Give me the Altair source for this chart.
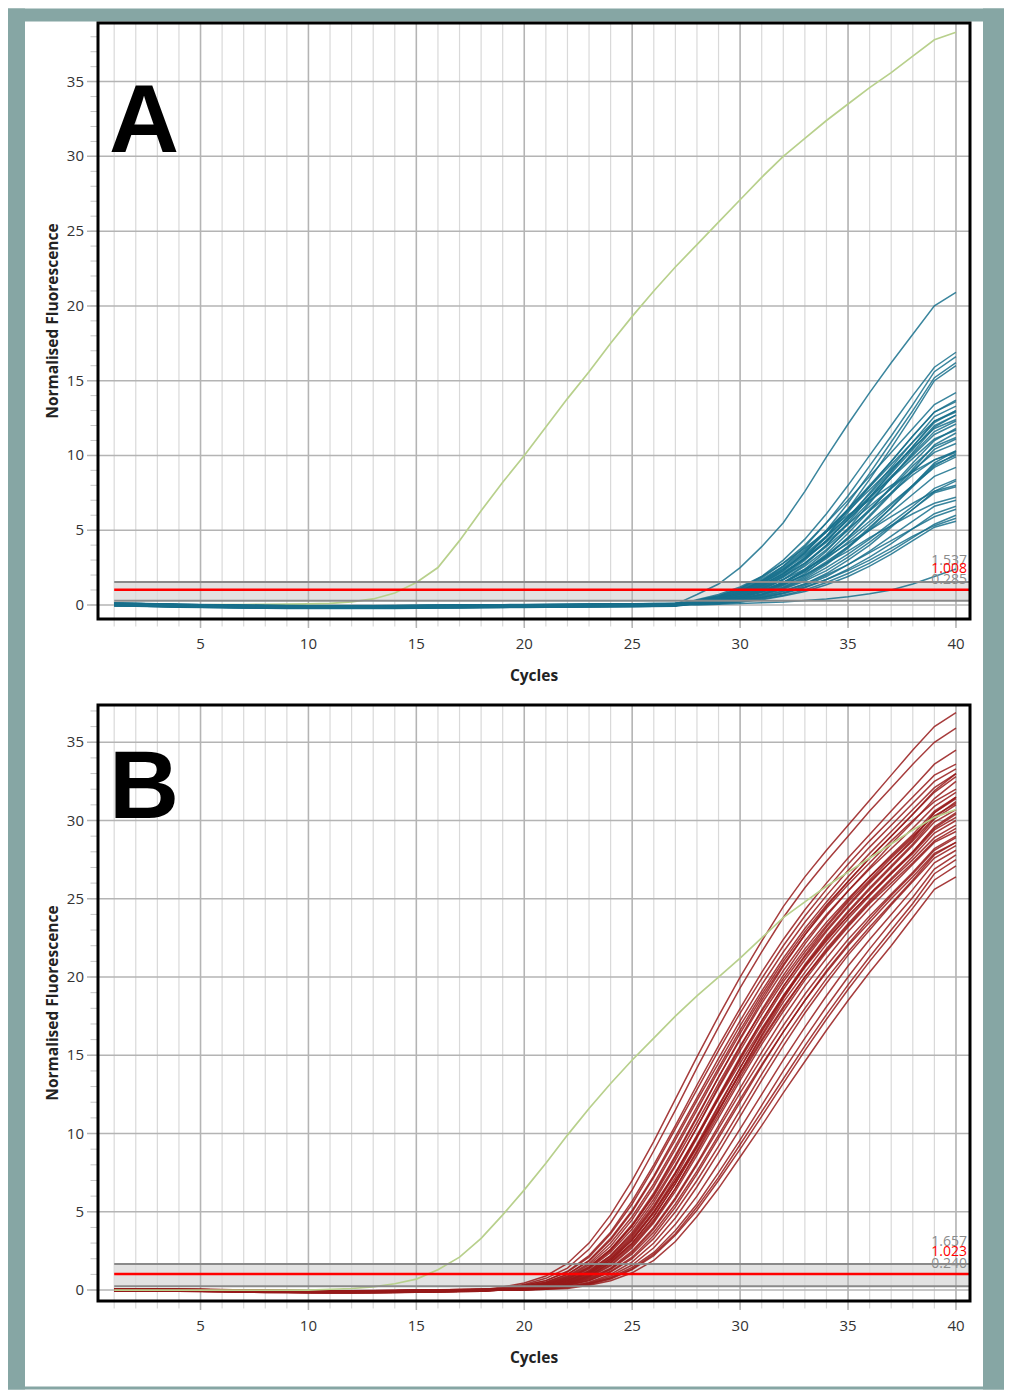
import altair as alt
import pandas as pd

CYCLES = list(range(1, 41))

# Green reference curve, cycles 1..40
GREEN_A = [0.0, 0.0, 0.0, 0.0, 0.01, 0.02, 0.03, 0.04, 0.05, 0.07, 0.1, 0.2, 0.4, 0.8, 1.5,
           2.5, 4.3, 6.3, 8.2, 10.0, 11.9, 13.8, 15.6, 17.5, 19.3, 21.0, 22.6, 24.1, 25.6, 27.1,
           28.6, 30.0, 31.2, 32.4, 33.5, 34.6, 35.6, 36.7, 37.8, 38.3]
GREEN_B = [0.0, 0.0, 0.0, 0.0, 0.0, 0.0, 0.0, 0.0, 0.0, 0.0, 0.05, 0.1, 0.2, 0.4, 0.7,
           1.3, 2.1, 3.3, 4.8, 6.4, 8.1, 9.9, 11.6, 13.2, 14.7, 16.1, 17.5, 18.8, 20.0, 21.2,
           22.5, 23.8, 24.8, 25.8, 26.7, 27.6, 28.5, 29.4, 30.2, 30.7]

# Panel A: shared baseline (cycles 1..27) and per-curve readings (cycles 28..40)
BASE_A = [0.05, 0.03, 0.0, -0.03, -0.05, -0.07, -0.09, -0.1, -0.11, -0.12, -0.12, -0.12,
          -0.12, -0.11, -0.1, -0.09, -0.08, -0.07, -0.06, -0.05, -0.04, -0.03, -0.02, -0.01,
          0.0, 0.02, 0.04]
TEAL_A = [
    [0.7, 1.4, 2.5, 3.9, 5.5, 7.6, 9.9, 12.1, 14.2, 16.2, 18.1, 20.0, 20.9],
    [0.3, 0.6, 1.1, 1.9, 3.0, 4.4, 6.1, 8.0, 10.0, 12.0, 14.0, 15.9, 16.9],
    [0.25, 0.5, 0.9, 1.6, 2.6, 3.9, 5.5, 7.3, 9.3, 11.3, 13.4, 15.6, 16.6],
    [0.2, 0.4, 0.8, 1.4, 2.3, 3.5, 5.0, 6.8, 8.8, 10.9, 13.0, 15.2, 16.2],
    [0.2, 0.35, 0.7, 1.2, 2.0, 3.1, 4.6, 6.4, 8.4, 10.5, 12.7, 15.0, 16.0],
    [0.3, 0.6, 1.1, 1.8, 2.8, 4.0, 5.5, 7.0, 8.6, 10.2, 11.8, 13.4, 14.2],
    [0.2, 0.45, 0.85, 1.5, 2.4, 3.5, 4.9, 6.4, 8.0, 9.6, 11.3, 12.9, 13.7],
    [0.15, 0.3, 0.6, 1.1, 1.9, 3.0, 4.3, 5.8, 7.5, 9.2, 10.9, 12.6, 13.3],
    [0.15, 0.3, 0.55, 1.0, 1.7, 2.7, 4.0, 5.5, 7.2, 8.9, 10.6, 12.3, 13.0],
    [0.1, 0.25, 0.5, 0.9, 1.5, 2.4, 3.6, 5.1, 6.8, 8.5, 10.2, 11.9, 12.7],
    [0.25, 0.5, 0.95, 1.6, 2.5, 3.6, 4.9, 6.3, 7.7, 9.1, 10.5, 11.8, 12.4],
    [0.2, 0.4, 0.75, 1.3, 2.1, 3.1, 4.3, 5.7, 7.1, 8.6, 10.0, 11.4, 12.1],
    [0.1, 0.2, 0.45, 0.85, 1.4, 2.3, 3.4, 4.8, 6.3, 7.9, 9.5, 11.0, 11.8],
    [0.1, 0.2, 0.4, 0.75, 1.3, 2.1, 3.2, 4.5, 6.0, 7.5, 9.1, 10.7, 11.5],
    [0.15, 0.3, 0.6, 1.05, 1.7, 2.6, 3.7, 5.0, 6.4, 7.8, 9.3, 10.6, 11.2],
    [0.3, 0.55, 1.0, 1.6, 2.4, 3.4, 4.6, 5.9, 7.2, 8.5, 9.8, 11.1, 11.7],
    [0.2, 0.4, 0.75, 1.25, 1.95, 2.8, 3.9, 5.1, 6.3, 7.5, 8.7, 9.7, 10.2],
    [0.1, 0.2, 0.4, 0.7, 1.2, 1.9, 2.8, 3.9, 5.2, 6.5, 7.9, 9.3, 10.1],
    [0.15, 0.3, 0.55, 0.95, 1.5, 2.3, 3.3, 4.4, 5.6, 6.8, 8.0, 9.2, 9.9],
    [0.35, 0.7, 1.2, 1.9, 2.8, 3.8, 4.9, 6.0, 7.0, 8.0, 8.9, 9.7, 10.3],
    [0.1, 0.2, 0.4, 0.7, 1.1, 1.7, 2.5, 3.4, 4.4, 5.5, 6.6, 7.8, 8.4],
    [0.2, 0.4, 0.7, 1.1, 1.7, 2.4, 3.2, 4.1, 5.0, 5.9, 6.8, 7.6, 8.0],
    [0.15, 0.3, 0.55, 0.9, 1.4, 2.0, 2.8, 3.6, 4.5, 5.3, 6.1, 6.8, 7.2],
    [0.1, 0.15, 0.3, 0.5, 0.8, 1.3, 1.9, 2.7, 3.6, 4.6, 5.6, 6.6, 7.0],
    [0.1, 0.2, 0.35, 0.6, 0.95, 1.4, 2.0, 2.7, 3.5, 4.3, 5.1, 5.9, 6.4],
    [0.05, 0.1, 0.2, 0.4, 0.65, 1.0, 1.5, 2.1, 2.8, 3.6, 4.5, 5.4, 6.0],
    [0.1, 0.2, 0.3, 0.5, 0.8, 1.2, 1.7, 2.3, 3.0, 3.8, 4.6, 5.3, 5.8],
    [0.05, 0.1, 0.2, 0.35, 0.6, 0.9, 1.35, 1.9, 2.6, 3.4, 4.3, 5.2, 5.6],
    [0.0, 0.05, 0.1, 0.15, 0.2, 0.3, 0.4, 0.55, 0.75, 1.0, 1.4, 1.9, 2.4],
    [0.2, 0.4, 0.8, 1.35, 2.1, 3.1, 4.3, 5.7, 7.2, 8.8, 10.4, 12.0, 12.7],
    [0.1, 0.25, 0.5, 0.9, 1.5, 2.3, 3.3, 4.5, 5.9, 7.4, 8.9, 10.4, 11.1],
    [0.25, 0.5, 0.9, 1.5, 2.3, 3.3, 4.5, 5.9, 7.4, 9.0, 10.6, 12.2, 13.0],
    [0.05, 0.15, 0.3, 0.55, 0.9, 1.4, 2.1, 3.0, 4.0, 5.2, 6.4, 7.6, 8.3],
    [0.15, 0.3, 0.55, 0.95, 1.5, 2.2, 3.1, 4.2, 5.4, 6.7, 8.0, 9.4, 10.0],
    [0.3, 0.6, 1.05, 1.7, 2.6, 3.7, 5.0, 6.4, 7.9, 9.4, 10.9, 12.3, 12.9],
    [0.1, 0.2, 0.4, 0.65, 1.05, 1.6, 2.3, 3.2, 4.2, 5.3, 6.4, 7.5, 7.9],
    [0.2, 0.4, 0.75, 1.3, 2.1, 3.2, 4.6, 6.2, 7.9, 9.6, 11.3, 12.9, 13.6],
    [0.15, 0.35, 0.65, 1.15, 1.85, 2.8, 4.0, 5.4, 6.9, 8.5, 10.1, 11.6, 12.3],
    [0.1, 0.2, 0.4, 0.7, 1.15, 1.8, 2.7, 3.8, 5.1, 6.5, 8.0, 9.5, 10.3],
    [0.25, 0.5, 0.9, 1.45, 2.2, 3.1, 4.2, 5.4, 6.6, 7.8, 9.0, 10.2, 10.8],
    [0.05, 0.1, 0.25, 0.45, 0.75, 1.15, 1.7, 2.4, 3.2, 4.1, 5.1, 6.1, 6.6],
    [0.1, 0.25, 0.5, 0.85, 1.35, 2.0, 2.9, 3.9, 5.0, 6.2, 7.4, 8.6, 9.2],
]
OFFSET_A = [0.0, -0.05, 0.05, -0.1, 0.03, -0.07, 0.08, -0.03, 0.02, -0.12, 0.06, -0.04,
            0.01, -0.08, 0.04, -0.02, 0.07, -0.06, 0.0, -0.1, 0.05, -0.03, 0.02, -0.09,
            0.06, -0.01, 0.03, -0.05, 0.0, -0.07, 0.04, -0.02, 0.01, -0.06, 0.05, -0.04,
            0.02, -0.08, 0.04, -0.03, 0.0, -0.05]

# Panel B: shared baseline (cycles 1..18) and per-curve readings (cycles 19..40)
BASE_B = [0.02, 0.02, 0.01, 0.0, -0.01, -0.03, -0.05, -0.07, -0.08, -0.09, -0.1, -0.1,
          -0.09, -0.08, -0.06, -0.04, -0.02, 0.0]
RED_B = [
    [0.2, 0.45, 0.9, 1.7, 3.0, 4.8, 7.0, 9.5, 12.2, 14.9, 17.5, 20.0, 22.3, 24.5, 26.4, 28.1, 29.7, 31.3, 32.9, 34.5, 36.0, 36.9],
    [0.15, 0.35, 0.75, 1.4, 2.6, 4.3, 6.4, 8.9, 11.5, 14.2, 16.8, 19.3, 21.6, 23.8, 25.7, 27.4, 29.0, 30.6, 32.1, 33.6, 35.0, 35.9],
    [0.1, 0.3, 0.6, 1.2, 2.2, 3.7, 5.7, 8.0, 10.5, 13.1, 15.6, 18.0, 20.3, 22.4, 24.3, 26.0, 27.6, 29.1, 30.6, 32.1, 33.6, 34.5],
    [0.1, 0.25, 0.5, 1.0, 1.9, 3.3, 5.1, 7.3, 9.8, 12.3, 14.8, 17.2, 19.5, 21.6, 23.5, 25.2, 26.8, 28.3, 29.7, 31.1, 32.5, 33.3],
    [0.05, 0.15, 0.35, 0.7, 1.4, 2.5, 4.1, 6.1, 8.5, 11.0, 13.6, 16.1, 18.5, 20.7, 22.7, 24.5, 26.1, 27.6, 29.0, 30.4, 31.9, 33.0],
    [0.1, 0.2, 0.45, 0.9, 1.7, 3.0, 4.7, 6.8, 9.2, 11.7, 14.2, 16.6, 18.9, 21.0, 22.9, 24.6, 26.1, 27.6, 29.0, 30.4, 31.8, 32.8],
    [0.05, 0.1, 0.3, 0.6, 1.2, 2.2, 3.7, 5.6, 7.9, 10.4, 13.0, 15.5, 17.9, 20.1, 22.1, 23.9, 25.5, 27.0, 28.5, 29.9, 31.4, 32.5],
    [0.05, 0.15, 0.35, 0.75, 1.45, 2.6, 4.2, 6.2, 8.6, 11.1, 13.6, 16.0, 18.3, 20.4, 22.3, 24.0, 25.5, 26.9, 28.2, 29.5, 30.9, 31.8],
    [0.0, 0.1, 0.25, 0.5, 1.0, 1.9, 3.2, 5.0, 7.2, 9.7, 12.3, 14.8, 17.2, 19.4, 21.4, 23.2, 24.8, 26.2, 27.6, 28.9, 30.5, 31.5],
    [0.05, 0.15, 0.3, 0.6, 1.15, 2.1, 3.5, 5.3, 7.5, 9.9, 12.4, 14.9, 17.2, 19.4, 21.3, 23.0, 24.6, 26.1, 27.4, 28.7, 30.2, 31.2],
    [0.1, 0.2, 0.4, 0.8, 1.5, 2.6, 4.1, 6.0, 8.3, 10.7, 13.2, 15.6, 17.8, 19.9, 21.8, 23.5, 25.0, 26.4, 27.7, 29.0, 30.3, 31.1],
    [0.0, 0.05, 0.2, 0.4, 0.85, 1.6, 2.8, 4.4, 6.5, 8.9, 11.4, 13.9, 16.3, 18.6, 20.7, 22.5, 24.1, 25.6, 27.0, 28.4, 29.9, 30.7],
    [0.05, 0.1, 0.25, 0.55, 1.05, 1.9, 3.2, 4.9, 7.0, 9.3, 11.8, 14.2, 16.5, 18.7, 20.6, 22.3, 23.9, 25.3, 26.7, 28.0, 29.5, 30.4],
    [0.0, 0.1, 0.2, 0.45, 0.9, 1.7, 2.9, 4.5, 6.5, 8.8, 11.2, 13.6, 15.9, 18.0, 20.0, 21.8, 23.4, 24.9, 26.3, 27.7, 29.2, 30.0],
    [0.05, 0.15, 0.3, 0.6, 1.1, 2.0, 3.3, 5.0, 7.0, 9.2, 11.5, 13.8, 16.0, 18.1, 20.0, 21.7, 23.3, 24.8, 26.2, 27.5, 28.9, 29.7],
    [0.0, 0.05, 0.15, 0.35, 0.75, 1.4, 2.5, 4.0, 5.9, 8.1, 10.5, 12.9, 15.2, 17.4, 19.4, 21.2, 22.9, 24.4, 25.8, 27.2, 28.6, 29.3],
    [0.0, 0.05, 0.15, 0.3, 0.6, 1.2, 2.1, 3.5, 5.3, 7.4, 9.7, 12.0, 14.3, 16.5, 18.5, 20.4, 22.1, 23.7, 25.2, 26.6, 28.1, 28.9],
    [0.0, 0.05, 0.1, 0.25, 0.5, 1.0, 1.8, 3.0, 4.6, 6.6, 8.8, 11.1, 13.4, 15.6, 17.7, 19.6, 21.4, 23.0, 24.6, 26.1, 27.6, 28.4],
    [0.0, 0.0, 0.1, 0.2, 0.45, 0.9, 1.6, 2.7, 4.2, 6.0, 8.1, 10.3, 12.5, 14.7, 16.8, 18.8, 20.7, 22.4, 24.0, 25.6, 27.3, 28.1],
    [0.0, 0.05, 0.1, 0.2, 0.4, 0.8, 1.45, 2.4, 3.8, 5.5, 7.5, 9.6, 11.8, 14.0, 16.1, 18.1, 20.0, 21.8, 23.5, 25.1, 26.9, 27.8],
    [0.0, 0.0, 0.05, 0.15, 0.35, 0.7, 1.3, 2.2, 3.5, 5.1, 7.0, 9.0, 11.1, 13.2, 15.3, 17.3, 19.2, 21.0, 22.7, 24.4, 26.2, 27.1],
    [0.0, 0.0, 0.05, 0.1, 0.3, 0.6, 1.1, 1.9, 3.1, 4.7, 6.5, 8.5, 10.5, 12.6, 14.6, 16.6, 18.5, 20.3, 22.0, 23.8, 25.6, 26.4],
    [0.05, 0.2, 0.4, 0.85, 1.6, 2.8, 4.5, 6.6, 9.0, 11.5, 14.0, 16.4, 18.7, 20.8, 22.7, 24.4, 25.9, 27.3, 28.7, 30.0, 31.2, 32.0],
    [0.0, 0.1, 0.2, 0.45, 0.95, 1.8, 3.0, 4.7, 6.8, 9.2, 11.7, 14.2, 16.6, 18.8, 20.8, 22.6, 24.2, 25.7, 27.1, 28.5, 30.1, 31.0],
    [0.05, 0.1, 0.3, 0.65, 1.25, 2.2, 3.6, 5.4, 7.5, 9.8, 12.2, 14.5, 16.7, 18.8, 20.7, 22.4, 23.9, 25.3, 26.6, 27.9, 29.4, 30.2],
    [0.0, 0.05, 0.2, 0.4, 0.8, 1.55, 2.7, 4.3, 6.3, 8.6, 11.0, 13.4, 15.7, 17.8, 19.8, 21.6, 23.2, 24.7, 26.0, 27.3, 28.7, 29.5],
    [0.0, 0.05, 0.15, 0.3, 0.65, 1.3, 2.3, 3.7, 5.5, 7.6, 9.9, 12.2, 14.4, 16.5, 18.5, 20.3, 22.0, 23.5, 25.0, 26.4, 27.9, 28.6],
    [0.0, 0.0, 0.1, 0.2, 0.4, 0.75, 1.35, 2.3, 3.6, 5.3, 7.2, 9.3, 11.4, 13.5, 15.6, 17.6, 19.5, 21.3, 23.0, 24.7, 26.6, 27.5],
    [0.1, 0.25, 0.5, 1.0, 1.85, 3.2, 5.0, 7.2, 9.6, 12.1, 14.5, 16.9, 19.1, 21.2, 23.1, 24.8, 26.4, 27.9, 29.3, 30.7, 32.1, 33.0],
    [0.05, 0.1, 0.25, 0.55, 1.1, 2.0, 3.4, 5.2, 7.4, 9.8, 12.3, 14.7, 17.0, 19.2, 21.1, 22.9, 24.5, 26.0, 27.4, 28.8, 30.5, 31.4],
    [0.0, 0.05, 0.2, 0.45, 0.9, 1.75, 3.0, 4.7, 6.8, 9.1, 11.5, 13.9, 16.2, 18.4, 20.3, 22.1, 23.7, 25.2, 26.6, 28.0, 29.6, 30.5],
    [0.0, 0.05, 0.15, 0.35, 0.7, 1.35, 2.4, 3.9, 5.8, 8.0, 10.3, 12.6, 14.8, 16.9, 18.9, 20.7, 22.4, 23.9, 25.3, 26.7, 28.2, 29.0],
    [0.05, 0.15, 0.35, 0.7, 1.35, 2.4, 3.9, 5.8, 8.0, 10.4, 12.9, 15.3, 17.6, 19.7, 21.6, 23.3, 24.9, 26.4, 27.8, 29.1, 30.6, 31.5],
    [0.0, 0.05, 0.15, 0.3, 0.6, 1.15, 2.0, 3.3, 5.0, 7.0, 9.2, 11.5, 13.8, 16.0, 18.0, 19.9, 21.6, 23.2, 24.7, 26.2, 27.8, 28.6],
    [0.1, 0.3, 0.6, 1.15, 2.1, 3.6, 5.5, 7.8, 10.3, 12.8, 15.3, 17.7, 19.9, 22.0, 23.9, 25.6, 27.2, 28.7, 30.1, 31.5, 32.9, 33.6],
]
OFFSET_B = [0.0, -0.04, 0.04, -0.08, 0.02, -0.06, 0.06, -0.02, 0.03, -0.07, 0.05, -0.03,
            0.01, -0.05, 0.04, -0.01, 0.02, -0.06, 0.0, -0.08, 0.03, -0.02, 0.05, -0.04,
            0.01, -0.06, 0.02, -0.03, 0.04, -0.05, 0.0, -0.02, 0.03, -0.05, 0.01]

THRESH_A = [0.285, 1.008, 1.537]
THRESH_B = [0.240, 1.023, 1.657]
THRESH_TEXT_A = ["0.285", "1.008", "1.537"]
THRESH_TEXT_B = ["0.240", "1.023", "1.657"]
X_MAJOR = [5, 10, 15, 20, 25, 30, 35, 40]
Y_MAJOR = [0, 5, 10, 15, 20, 25, 30, 35]
X_TITLE = "Cycles"
Y_TITLE = "Normalised Fluorescence"

W, H = 872, 596
BG = "#86a6a4"
FONT = "Open Sans"
XDOM = [0.25, 40.65]


def strip(x0, x1, y0, y1):
    return alt.Chart(pd.DataFrame({"k": [0]})).mark_rect(color=BG).encode(
        x=alt.value(x0), x2=alt.value(x1), y=alt.value(y0), y2=alt.value(y1))


def panel(letter, green, base, curves, offsets, color, thresh, thresh_text, ydom,
          y_minor, strips, green_on_top, label_dy, letter_y):
    xs = alt.Scale(domain=XDOM, nice=False, zero=False)
    ys = alt.Scale(domain=ydom, nice=False, zero=False)
    rows = []
    for k, (curve, off) in enumerate(zip(curves, offsets)):
        vals = [b + off for b in base] + curve
        for c, v in zip(CYCLES, vals):
            rows.append({"series": f"{letter}{k}", "cycle": c, "value": v})
    curves_df = pd.DataFrame(rows)
    green_df = pd.DataFrame({"cycle": CYCLES, "value": green})
    one = pd.DataFrame({"k": [0]})

    def X(f):
        return alt.X(f, scale=xs, axis=None)

    def Y(f):
        return alt.Y(f, scale=ys, axis=None)

    band = alt.Chart(pd.DataFrame({"x0": [1], "lo": [thresh[0]], "hi": [thresh[2]]})).mark_rect(
        color="#e2e2e2").encode(x=X("x0:Q"), x2=alt.value(W), y=Y("lo:Q"), y2="hi:Q")

    # grid lines (extended below / left of the frame as tick marks)
    minor_v = alt.Chart(pd.DataFrame({"g": CYCLES})).mark_rule(color="#d9d9d9", strokeWidth=1.2).encode(
        x=X("g:Q"), y=alt.value(0), y2=alt.value(H + 7.5))
    major_v = alt.Chart(pd.DataFrame({"g": X_MAJOR})).mark_rule(color="#b4b4b4", strokeWidth=1.5).encode(
        x=X("g:Q"), y=alt.value(0), y2=alt.value(H + 9))
    minor_h = alt.Chart(pd.DataFrame({"g": y_minor})).mark_rule(color="#c4c4c4", strokeWidth=1).encode(
        y=Y("g:Q"), x=alt.value(-7.5), x2=alt.value(0))
    major_h = alt.Chart(pd.DataFrame({"g": Y_MAJOR})).mark_rule(color="#b4b4b4", strokeWidth=1.5).encode(
        y=Y("g:Q"), x=alt.value(-11), x2=alt.value(W))

    # tick labels and titles
    x_labels = alt.Chart(pd.DataFrame({"g": X_MAJOR})).mark_text(
        font=FONT, fontSize=15, color="#333333", align="center", baseline="middle").encode(
        x=X("g:Q"), y=alt.value(H + 25), text="g:Q")
    y_labels = alt.Chart(pd.DataFrame({"g": Y_MAJOR})).mark_text(
        font=FONT, fontSize=15, color="#333333", align="right", baseline="middle").encode(
        y=Y("g:Q"), x=alt.value(-14), text="g:Q")
    x_title = alt.Chart(one).mark_text(
        text=X_TITLE, font=FONT, fontSize=15.5, fontWeight="bold", color="#222222",
        align="center", baseline="middle").encode(x=alt.value(W / 2), y=alt.value(H + 57))
    y_title = alt.Chart(one).mark_text(
        text=Y_TITLE, font=FONT, fontSize=15.5, fontWeight="bold", color="#222222",
        align="center", baseline="middle", angle=270).encode(x=alt.value(-45), y=alt.value(H / 2))

    lines = alt.Chart(curves_df).mark_line(color=color, strokeWidth=1.5, opacity=0.85).encode(
        x=X("cycle:Q"), y=Y("value:Q"), detail="series:N")
    green_line = alt.Chart(green_df).mark_line(color="#b8d08c", strokeWidth=1.7).encode(
        x=X("cycle:Q"), y=Y("value:Q"))

    tdf = pd.DataFrame({"x0": [1, 1, 1], "v": thresh, "t": thresh_text,
                        "kind": ["lo", "mid", "hi"]})
    gray_rules = alt.Chart(tdf[tdf.kind != "mid"]).mark_rule(color="#8a8a8a", strokeWidth=2).encode(
        x=X("x0:Q"), x2=alt.value(W), y=Y("v:Q"))
    red_rule = alt.Chart(tdf[tdf.kind == "mid"]).mark_rule(color="#ff0000", strokeWidth=2.5).encode(
        x=X("x0:Q"), x2=alt.value(W), y=Y("v:Q"))
    gray_text = alt.Chart(tdf[tdf.kind != "mid"]).mark_text(
        font=FONT, fontSize=14, color="#8c8c8c", align="right", baseline="middle", dy=label_dy).encode(
        x=alt.value(W - 3), y=Y("v:Q"), text="t:N")
    red_text = alt.Chart(tdf[tdf.kind == "mid"]).mark_text(
        font=FONT, fontSize=14, color="#ff0000", align="right", baseline="middle", dy=label_dy).encode(
        x=alt.value(W - 3), y=Y("v:Q"), text="t:N")

    letter_mark = alt.Chart(one).mark_text(
        text=letter, font="Liberation Sans", fontWeight="bold", fontSize=97, color="black",
        align="center", baseline="alphabetic").encode(x=alt.value(46), y=alt.value(letter_y))

    frame = alt.Chart(one).mark_rect(fillOpacity=0, stroke="black", strokeWidth=3).encode(
        x=alt.value(0), x2=alt.value(W), y=alt.value(0), y2=alt.value(H))

    if green_on_top:
        curve_layers = [lines, green_line]
    else:
        curve_layers = [green_line, lines]

    return alt.layer(*[strip(*s) for s in strips], band, minor_v, major_v, minor_h, major_h,
                     *curve_layers, gray_rules, red_rule, gray_text, red_text,
                     x_labels, y_labels, x_title, y_title,
                     letter_mark, frame).properties(width=W, height=H)


strips_a = [(-90, 906, -14.5, -1.5), (-90, -73, -14.5, H + 43), (885, 906, -14.5, H + 43)]
strips_b = [(-90, -73, -43, 684.5), (885, 906, -43, 684.5), (-90, 906, 681.5, 684.5)]

panel_a = panel("A", GREEN_A, BASE_A, TEAL_A, OFFSET_A, "#17708c", THRESH_A, THRESH_TEXT_A,
                [-0.94, 38.92], list(range(0, 39)), strips_a, False, -21, 129)
panel_b = panel("B", GREEN_B, BASE_B, RED_B, OFFSET_B, "#961a1a", THRESH_B, THRESH_TEXT_B,
                [-0.70, 37.38], list(range(0, 38)), strips_b, True, -22, 113)

chart = alt.vconcat(panel_a, panel_b, spacing=86, bounds="flush").properties(
    padding=0, background="white").configure_view(stroke=None)

chart.save("out.html", embed_options={"renderer": "svg", "actions": False})
